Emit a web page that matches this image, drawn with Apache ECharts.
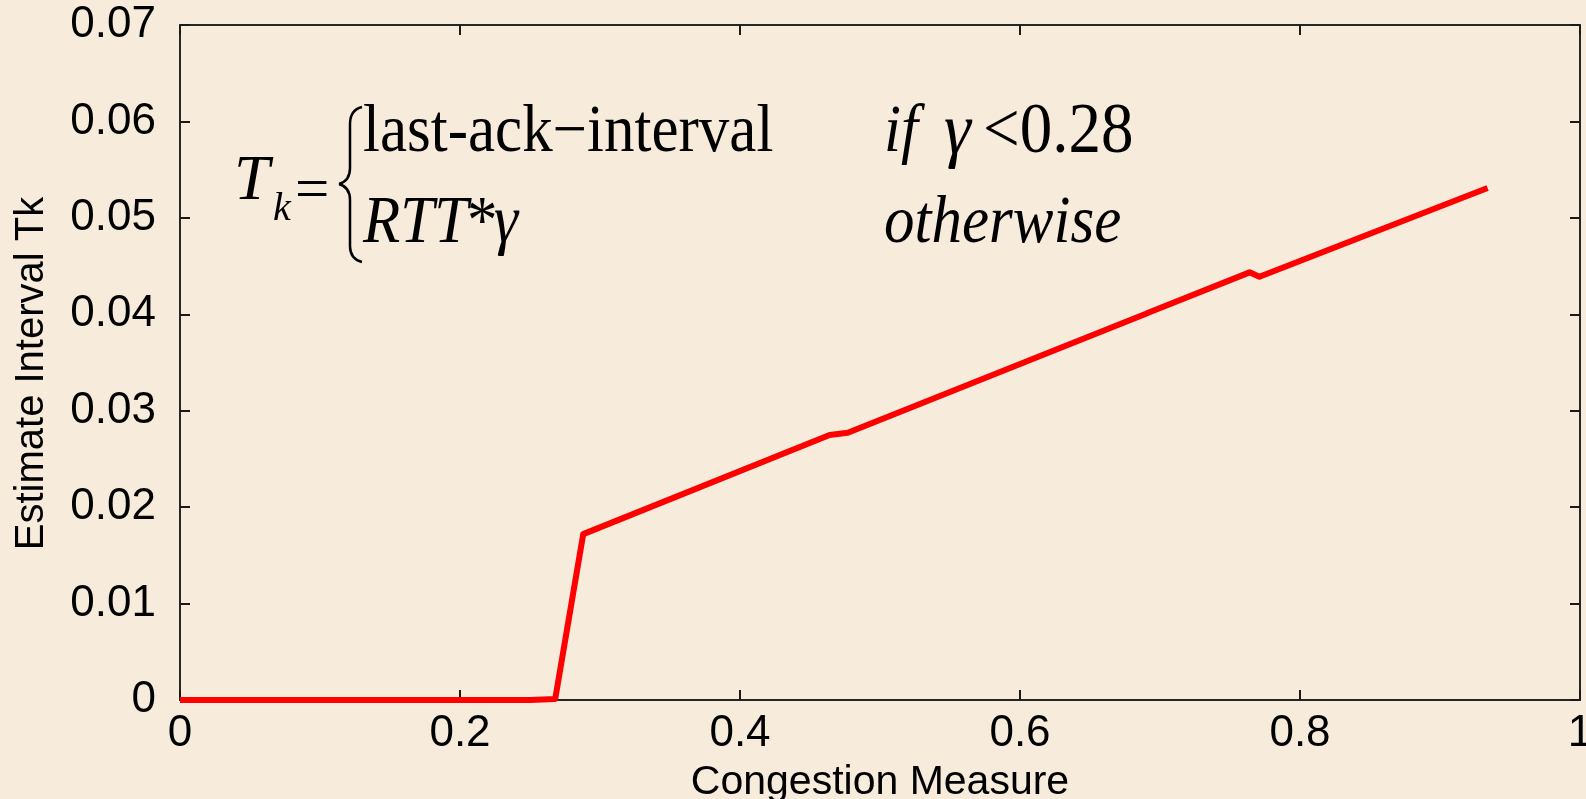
<!DOCTYPE html>
<html>
<head>
<meta charset="utf-8">
<title>Estimate Interval Tk vs Congestion Measure</title>
<script src="https://cdn.jsdelivr.net/npm/echarts@6/dist/echarts.min.js"></script>
<style>
  html, body { margin: 0; padding: 0; background: #f7ebdc; }
  #chart { width: 1586px; height: 799px; }
</style>
</head>
<body>
<div id="chart"></div>
<script>
// Congestion measure (gamma) and the resulting estimate interval Tk
const gamma    = [0, 0.25, 0.268, 0.288, 0.464, 0.477, 0.690, 0.692, 0.764, 0.771, 0.934];
const interval = [0, 0, 0.0001, 0.0172, 0.02748, 0.02772, 0.04005, 0.04018, 0.04435, 0.0439, 0.0531];

const xTickLabels = ['0', '0.2', '0.4', '0.6', '0.8', '1'];
const yTickLabels = ['0', '0.01', '0.02', '0.03', '0.04', '0.05', '0.06', '0.07'];

const points = gamma.map((g, i) => [g, interval[i]]);

function frameLine() { return { show: true, onZero: false, lineStyle: { color: '#1a1a1a', width: 1.5 } }; }
function frameTick() { return { show: true, inside: true, length: 10, lineStyle: { color: '#1a1a1a', width: 2 } }; }
function tickFont(fmt, margin) {
  return { show: true, inside: false, margin: margin, formatter: fmt,
    fontFamily: 'Liberation Sans', fontSize: 44, color: '#000' };
}

const serif = 'Liberation Serif';
function formulaText(str, x, y, opts) {
  opts = opts || {};
  return {
    type: 'text', x: x, y: y, scaleY: opts.stretch || 1.1, silent: true,
    style: {
      text: str, fill: '#000',
      font: (opts.italic ? 'italic ' : '') + (opts.size || 61) + 'px "' + serif + '"',
      textAlign: 'left', textVerticalAlign: 'middle', verticalAlign: 'middle'
    }
  };
}

// Left brace of the piecewise definition, built from curve and line pieces
const braceStyle = { stroke: '#000', lineWidth: 2.5, fill: null };
function bz(x1, y1, cx1, cy1, cx2, cy2, x2, y2) {
  return { type: 'bezierCurve', silent: true,
    shape: { x1: x1, y1: y1, cpx1: cx1, cpy1: cy1, cpx2: cx2, cpy2: cy2, x2: x2, y2: y2 },
    style: braceStyle };
}
function ln(x1, y1, x2, y2) {
  return { type: 'line', silent: true, shape: { x1: x1, y1: y1, x2: x2, y2: y2 }, style: braceStyle };
}
const brace = [
  bz(362, 107, 354, 109, 350, 114, 350, 124),
  ln(350, 124, 350, 168),
  bz(350, 168, 350, 177, 346, 182, 339, 184),
  bz(339, 184, 346, 186, 350, 191, 350, 200),
  ln(350, 200, 350, 246),
  bz(350, 246, 350, 255, 354, 260, 362, 262)
];

const chart = echarts.init(document.getElementById('chart'));
chart.setOption({
  backgroundColor: '#f7ebdc',
  animation: false,
  grid: {
    left: 180, right: 6, top: 25, bottom: 99,
    containLabel: false, outerBoundsMode: 'none',
    show: true, borderColor: '#1a1a1a', borderWidth: 1.5, backgroundColor: 'transparent'
  },
  xAxis: [{
    type: 'value', show: true, min: 0, max: 1, interval: 0.2, position: 'bottom',
    name: 'Congestion Measure', nameLocation: 'middle', nameGap: 62,
    nameTextStyle: { fontFamily: 'Liberation Sans', fontSize: 41, color: '#000' },
    axisLine: frameLine(), axisTick: frameTick(),
    axisLabel: tickFont((v) => xTickLabels[Math.round(v / 0.2)], 12),
    splitLine: { show: false }
  }, {
    type: 'value', show: true, min: 0, max: 1, interval: 0.2, position: 'top',
    axisLine: frameLine(), axisTick: frameTick(), axisLabel: { show: false }, splitLine: { show: false }
  }],
  yAxis: [{
    type: 'value', show: true, min: 0, max: 0.07, interval: 0.01, position: 'left',
    name: 'Estimate Interval Tk', nameLocation: 'middle', nameGap: 128, nameRotate: 90,
    nameTextStyle: { fontFamily: 'Liberation Sans', fontSize: 40, color: '#000', padding: [0, 22, 0, 0] },
    axisLine: frameLine(), axisTick: frameTick(),
    axisLabel: tickFont((v) => yTickLabels[Math.round(v / 0.01)], 24),
    splitLine: { show: false }
  }, {
    type: 'value', show: true, min: 0, max: 0.07, interval: 0.01, position: 'right',
    axisLine: frameLine(), axisTick: frameTick(), axisLabel: { show: false }, splitLine: { show: false }
  }],
  series: [{
    type: 'line',
    xAxisIndex: 0, yAxisIndex: 0,
    data: points,
    showSymbol: false,
    lineStyle: { color: '#ff0000', width: 6, join: 'round' },
    z: 3
  }, {
    // same curve on the mirrored top/right axes, kept fully transparent
    type: 'line', xAxisIndex: 1, yAxisIndex: 1, data: points, silent: true,
    showSymbol: false, lineStyle: { opacity: 0 }, z: 1
  }],
  graphic: brace.concat([
    // Piecewise definition of Tk
    formulaText('T', 234, 182, { italic: true, size: 64, stretch: 1.0 }),
    formulaText('k', 273, 209, { italic: true, size: 40, stretch: 1.0 }),
    formulaText('=', 295, 193, { stretch: 1.0 }),
    formulaText('last-ack\u2212interval', 363, 133),
    formulaText('if', 884, 133, { italic: true }),
    formulaText('\u03b3', 944, 133, { italic: true, size: 68 }),
    formulaText('<0.28', 983, 133, { size: 65 }),
    formulaText('RTT', 363, 224, { italic: true }),
    formulaText('*', 467, 224),
    formulaText('\u03b3', 494, 224, { italic: true }),
    formulaText('otherwise', 884, 224, { italic: true })
  ])
});
</script>
</body>
</html>
